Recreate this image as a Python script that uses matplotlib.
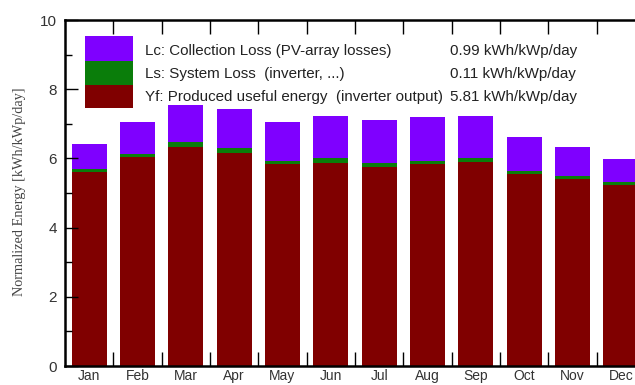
import matplotlib
matplotlib.use("Agg")
import matplotlib.pyplot as plt
from matplotlib.patches import Rectangle
import numpy as np

months = ["Jan", "Feb", "Mar", "Apr", "May", "Jun", "Jul", "Aug", "Sep", "Oct", "Nov", "Dec"]
yf = [5.60, 6.03, 6.34, 6.17, 5.84, 5.88, 5.76, 5.84, 5.90, 5.55, 5.40, 5.22]
ls = [0.09, 0.10, 0.13, 0.14, 0.09, 0.12, 0.10, 0.09, 0.12, 0.10, 0.10, 0.11]
lc = [0.72, 0.93, 1.07, 1.11, 1.11, 1.23, 1.25, 1.28, 1.21, 0.98, 0.82, 0.64]

legend_labels = ["Lc: Collection Loss (PV-array losses)",
                 "Ls: System Loss  (inverter, ...)",
                 "Yf: Produced useful energy  (inverter output)"]
legend_values = ["0.99 kWh/kWp/day", "0.11 kWh/kWp/day", "5.81 kWh/kWp/day"]

C_LC = "#7f00ff"
C_LS = "#0a7d0a"
C_YF = "#800000"

W, H = 635, 385
fig = plt.figure(figsize=(W / 100, H / 100), dpi=100)

def fx(px):
    return px / W

def fy(py):
    return 1 - py / H

ax = fig.add_axes([fx(65), fy(366), fx(645) - fx(65), fy(20) - fy(366)])

x = np.arange(len(months))
yf_a, ls_a, lc_a = np.array(yf), np.array(ls), np.array(lc)
bw = 0.72
ax.bar(x, yf_a, width=bw, color=C_YF, linewidth=0)
ax.bar(x, ls_a, width=bw, bottom=yf_a, color=C_LS, linewidth=0)
ax.bar(x, lc_a, width=bw, bottom=yf_a + ls_a, color=C_LC, linewidth=0)

ax.set_xlim(-0.5, len(months) - 0.5)
ax.set_ylim(0, 10)

ax.set_xticks(x)
ax.set_xticklabels(months, fontsize=10, color="#333333", family="Liberation Sans")
ax.set_xticks(x[:-1] + 0.5, minor=True)
ax.tick_params(axis="x", which="major", length=0, pad=2)
ax.tick_params(axis="x", which="minor", direction="in", length=10, width=1,
               top=True, bottom=True)

ax.set_yticks([0, 2, 4, 6, 8, 10])
ax.set_yticks([1, 3, 5, 7, 9], minor=True)
ax.set_yticklabels(["0", "2", "4", "6", "8", "10"], fontsize=11,
                   color="#333333", family="Liberation Sans")
ax.tick_params(axis="y", which="major", direction="in", length=9, width=1, pad=6)
ax.tick_params(axis="y", which="minor", direction="in", length=5, width=1)

for s in ax.spines.values():
    s.set_linewidth(1.8)

fig.text(fx(20), fy(192), "Normalized Energy [kWh/kWp/day]", rotation=90,
         ha="center", va="center", fontsize=10.3, color="#444444",
         family="Liberation Serif")

# stacked legend swatch
swatch = [(36, 61, C_LC), (61, 85, C_LS), (85, 108, C_YF)]
for top, bot, col in swatch:
    fig.patches.append(Rectangle((fx(85), fy(bot)), fx(133) - fx(85), fy(top) - fy(bot),
                                 transform=fig.transFigure, color=col, linewidth=0))

for i, (lab, val) in enumerate(zip(legend_labels, legend_values)):
    yc = 51 + i * 23
    fig.text(fx(145), fy(yc), lab, ha="left", va="center", fontsize=10.9,
             color="#222222", family="Liberation Sans")
    fig.text(fx(450), fy(yc), val, ha="left", va="center", fontsize=10.9,
             color="#222222", family="Liberation Sans")

fig.savefig("out.png", dpi=100)
